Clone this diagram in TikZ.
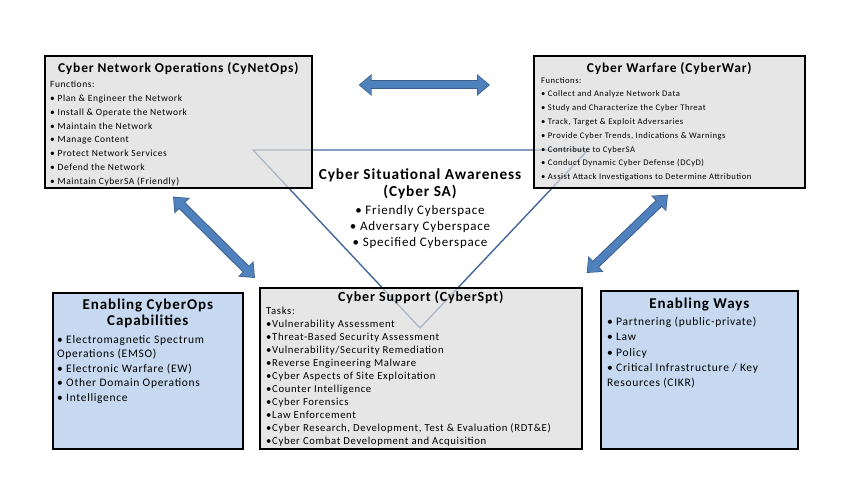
\documentclass[tikz,border=0pt]{standalone}
\usepackage{fontspec}
\setmainfont{Carlito}[LetterSpace=6]
\usetikzlibrary{arrows.meta,positioning}
\definecolor{boxgray}{HTML}{DCDCDC}
\definecolor{boxblue}{HTML}{C6D9F1}
\definecolor{arrowblue}{HTML}{4F81BD}
\definecolor{arrowedge}{HTML}{3A5F8F}
\definecolor{lineblue}{HTML}{44679A}

\begin{document}
\begin{tikzpicture}[x=1pt,y=-1pt,
	graybox/.style={draw=black, line width=1.6pt, fill=boxgray, fill opacity=0.7, inner sep=0pt, anchor=north west},
	bluebox/.style={draw=black, line width=1.6pt, fill=boxblue, inner sep=0pt, anchor=north west},
	titletext/.style={font=\bfseries\fontsize{14}{16}\selectfont, align=center, inner sep=0pt, anchor=north},
	listtext/.style={font=\fontsize{10}{13.8}\selectfont, align=left, inner sep=0pt, anchor=north west},
	arrowout/.style={draw=arrowedge, line width=9pt, {Triangle[length=13pt,width=21pt]}-{Triangle[length=13pt,width=21pt]}},
	arrowin/.style={draw=arrowblue, line width=7pt, shorten <=1.2pt, shorten >=1.2pt, {Triangle[length=11pt,width=18pt]}-{Triangle[length=11pt,width=18pt]}}]
	\useasboundingbox (0,0) rectangle (854,500);
	% situational awareness triangle
	\draw[lineblue, line width=1.4pt] (253,150) -- (588,150) -- (420,328) -- cycle;
	% boxes
	\node[graybox, minimum width=267pt, minimum height=132pt] (netops) at (44,55) {};
	\node[graybox, minimum width=271pt, minimum height=132pt] (war) at (533,55) {};
	\node[graybox, minimum width=322pt, minimum height=161pt] (spt) at (259,287) {};
	\node[bluebox, minimum width=190pt, minimum height=156pt] (capab) at (52,292) {};
	\node[bluebox, minimum width=197pt, minimum height=158pt] (ways) at (600,290) {};
	% texts
	\node[titletext, font=\bfseries\fontsize{13.5}{15}\selectfont] (netopstitle) at ([yshift=-7pt]netops.north) {Cyber Network Operations (CyNetOps)};
	\node[listtext, font=\fontsize{9.5}{13.8}\selectfont] (netopslist) at ([shift={(6,26)}]netops.north west) {Functions:\\
		\textbullet\ Plan \& Engineer the Network\\
		\textbullet\ Install \& Operate the Network\\
		\textbullet\ Maintain the Network\\
		\textbullet\ Manage Content\\
		\textbullet\ Protect Network Services\\
		\textbullet\ Defend the Network\\
		\textbullet\ Maintain CyberSA (Friendly)};
	\node[titletext, font=\bfseries\fontsize{13.5}{15}\selectfont] (wartitle) at ([yshift=-7pt]war.north) {Cyber Warfare (CyberWar)};
	\node[listtext, font=\fontsize{8.6}{13.8}\selectfont] (warlist) at ([shift={(8,22)}]war.north west) {Functions:\\
		\textbullet\ Collect and Analyze Network Data\\
		\textbullet\ Study and Characterize the Cyber Threat\\
		\textbullet\ Track, Target \& Exploit Adversaries\\
		\textbullet\ Provide Cyber Trends, Indications \& Warnings\\
		\textbullet\ Contribute to CyberSA\\
		\textbullet\ Conduct Dynamic Cyber Defense (DCyD)\\
		\textbullet\ Assist Attack Investigations to Determine Attribution};
	\node[titletext, font=\bfseries\fontsize{15.3}{17}\selectfont] (satitle) at (420,169) {Cyber Situational Awareness\\(Cyber SA)};
	\node[titletext, font=\fontsize{13}{16}\selectfont] (salist) at (420,205) {\textbullet\ Friendly Cyberspace\\
		\textbullet\ Adversary Cyberspace\\
		\textbullet\ Specified Cyberspace};
	\node[titletext] (spttitle) at ([yshift=-4pt]spt.north) {Cyber Support (CyberSpt)};
	\node[listtext, font=\fontsize{10.7}{13}\selectfont] (sptlist) at ([shift={(7,20)}]spt.north west) {Tasks:\\
		\textbullet Vulnerability Assessment\\
		\textbullet Threat-Based Security Assessment\\
		\textbullet Vulnerability/Security Remediation\\
		\textbullet Reverse Engineering Malware\\
		\textbullet Cyber Aspects of Site Exploitation\\
		\textbullet Counter Intelligence\\
		\textbullet Cyber Forensics\\
		\textbullet Law Enforcement\\
		\textbullet Cyber Research, Development, Test \& Evaluation (RDT\&E)\\
		\textbullet Cyber Combat Development and Acquisition};
	\node[titletext, font=\bfseries\fontsize{15}{16}\selectfont] (capabtitle) at ([yshift=-7pt]capab.north) {Enabling CyberOps\\Capabilities};
	\node[listtext, font=\fontsize{11.5}{14.5}\selectfont] (capablist) at ([shift={(5,43)}]capab.north west) {\textbullet\ Electromagnetic Spectrum\\
		Operations (EMSO)\\
		\textbullet\ Electronic Warfare (EW)\\
		\textbullet\ Other Domain Operations\\
		\textbullet\ Intelligence};
	\node[titletext, font=\bfseries\fontsize{15}{16}\selectfont] (waystitle) at ([yshift=-8pt]ways.north) {Enabling Ways};
	\node[listtext, font=\fontsize{11.5}{15.2}\selectfont] (wayslist) at ([shift={(7,27)}]ways.north west) {\textbullet\ Partnering (public-private)\\
		\textbullet\ Law\\
		\textbullet\ Policy\\
		\textbullet\ Critical Infrastructure / Key\\
		Resources (CIKR)};
	% arrow ends
	\coordinate (netopsh) at ([shift={(46,30)}]netops.north east);
	\coordinate (warh) at ([shift={(-43,30)}]war.north west);
	\coordinate (netopsd) at ([shift={(129,8)}]netops.south west);
	\coordinate (sptl) at ([shift={(-4,-9)}]spt.north west);
	\coordinate (ward) at ([shift={(135,6)}]war.south west);
	\coordinate (sptr) at ([shift={(4,-14)}]spt.north east);
	% double arrows
	\foreach \a/\b in {netopsh/warh, netopsd/sptl, ward/sptr}{
		\draw[arrowout] (\a) -- (\b);
		\draw[arrowin] (\a) -- (\b);
	}
\end{tikzpicture}
\end{document}
